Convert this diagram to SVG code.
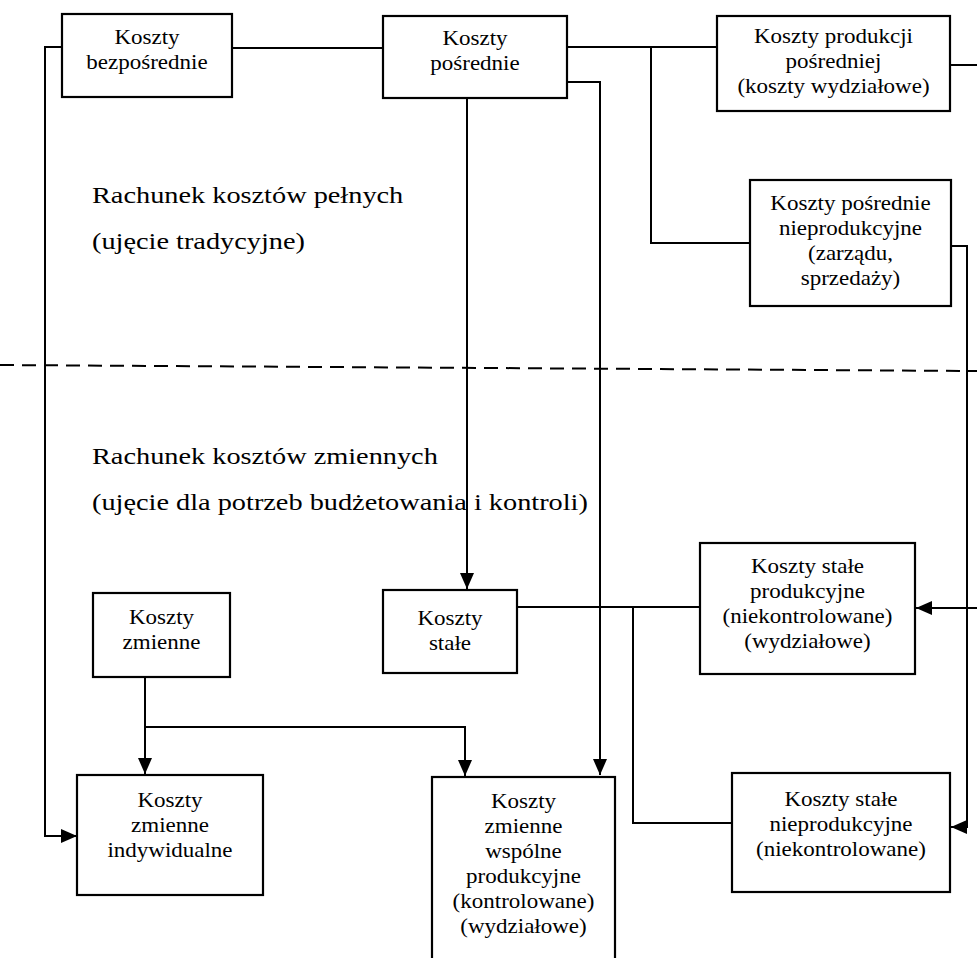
<svg xmlns="http://www.w3.org/2000/svg" width="977" height="958" viewBox="0 0 977 958">
<defs>
<marker id="arr" viewBox="0 0 16 14" refX="16" refY="7" markerWidth="16" markerHeight="14" orient="auto" markerUnits="userSpaceOnUse">
<path d="M0,0 L16,7 L0,14 z" fill="#000"/>
</marker>
<style>
.box { fill: #fff; stroke: #000; stroke-width: 2.2; }
.bt { font-family: "Liberation Serif", "Times New Roman", serif; font-size: 20px; fill: #000; text-anchor: middle; transform-box: fill-box; transform-origin: center; transform: scaleX(1.15); }
.lbl { font-family: "Liberation Serif", "Times New Roman", serif; font-size: 24px; fill: #000; transform-box: fill-box; transform-origin: left center; transform: scaleX(1.18); }
.ln { fill: none; stroke: #000; stroke-width: 2; }
.dash { fill: none; stroke: #000; stroke-width: 2; stroke-dasharray: 14 8; }
</style>
</defs>
<rect width="977" height="958" fill="#fff"/>

<g id="labels">
<text class="lbl" x="92" y="203">Rachunek kosztów pełnych</text>
<text class="lbl" x="92" y="249">(ujęcie tradycyjne)</text>
<text class="lbl" x="92" y="464">Rachunek kosztów zmiennych</text>
<text class="lbl" x="92" y="510">(ujęcie dla potrzeb budżetowania i kontroli)</text>
</g>

<g id="divider">
<line class="dash" x1="0" y1="365" x2="977" y2="371"/>
</g>

<g id="connectors">
<path class="ln" d="M62,47 H45 V836 H77" marker-end="url(#arr)"/>
<path class="ln" d="M232,48 H383"/>
<path class="ln" d="M567,47 H717"/>
<path class="ln" d="M651,47 V243 H750"/>
<path class="ln" d="M567,82 H600 V775" marker-end="url(#arr)"/>
<path class="ln" d="M467,98 V589" marker-end="url(#arr)"/>
<path class="ln" d="M950,65 H977"/>
<path class="ln" d="M977,608 H916" marker-end="url(#arr)"/>
<path class="ln" d="M951,246 H967 V827 H951" marker-end="url(#arr)"/>
<path class="ln" d="M517,607 H700"/>
<path class="ln" d="M633,607 V823 H732"/>
<path class="ln" d="M145,677 V774" marker-end="url(#arr)"/>
<path class="ln" d="M145,727 H465 V776" marker-end="url(#arr)"/>
</g>

<g id="koszty-bezposrednie">
<rect class="box" x="62" y="14" width="170" height="83"/>
<text class="bt" x="147" y="44">Koszty</text>
<text class="bt" x="147" y="69">bezpośrednie</text>
</g>

<g id="koszty-posrednie">
<rect class="box" x="383" y="16" width="184" height="82"/>
<text class="bt" x="475" y="45">Koszty</text>
<text class="bt" x="475" y="70">pośrednie</text>
</g>

<g id="koszty-produkcji-posredniej">
<rect class="box" x="717" y="16" width="233" height="95"/>
<text class="bt" x="833.5" y="43">Koszty produkcji</text>
<text class="bt" x="833.5" y="68">pośredniej</text>
<text class="bt" x="833.5" y="93">(koszty wydziałowe)</text>
</g>

<g id="koszty-posrednie-nieprodukcyjne">
<rect class="box" x="750" y="180" width="201" height="126"/>
<text class="bt" x="850.5" y="210">Koszty pośrednie</text>
<text class="bt" x="850.5" y="235">nieprodukcyjne</text>
<text class="bt" x="850.5" y="260">(zarządu,</text>
<text class="bt" x="850.5" y="285">sprzedaży)</text>
</g>

<g id="koszty-stale-produkcyjne">
<rect class="box" x="700" y="543" width="215" height="131"/>
<text class="bt" x="807.5" y="573">Koszty stałe</text>
<text class="bt" x="807.5" y="598">produkcyjne</text>
<text class="bt" x="807.5" y="623">(niekontrolowane)</text>
<text class="bt" x="807.5" y="648">(wydziałowe)</text>
</g>

<g id="koszty-zmienne">
<rect class="box" x="93" y="593" width="137" height="84"/>
<text class="bt" x="161.5" y="624">Koszty</text>
<text class="bt" x="161.5" y="649">zmienne</text>
</g>

<g id="koszty-stale">
<rect class="box" x="383" y="590" width="134" height="83"/>
<text class="bt" x="450" y="625">Koszty</text>
<text class="bt" x="450" y="650">stałe</text>
</g>

<g id="koszty-zmienne-indywidualne">
<rect class="box" x="77" y="775" width="186" height="120"/>
<text class="bt" x="170" y="807">Koszty</text>
<text class="bt" x="170" y="832">zmienne</text>
<text class="bt" x="170" y="857">indywidualne</text>
</g>

<g id="koszty-zmienne-wspolne">
<rect class="box" x="432" y="777" width="183" height="200"/>
<text class="bt" x="523.5" y="808">Koszty</text>
<text class="bt" x="523.5" y="833">zmienne</text>
<text class="bt" x="523.5" y="858">wspólne</text>
<text class="bt" x="523.5" y="883">produkcyjne</text>
<text class="bt" x="523.5" y="908">(kontrolowane)</text>
<text class="bt" x="523.5" y="933">(wydziałowe)</text>
</g>

<g id="koszty-stale-nieprodukcyjne">
<rect class="box" x="732" y="773" width="218" height="119"/>
<text class="bt" x="841" y="806">Koszty stałe</text>
<text class="bt" x="841" y="831">nieprodukcyjne</text>
<text class="bt" x="841" y="856">(niekontrolowane)</text>
</g>
</svg>
